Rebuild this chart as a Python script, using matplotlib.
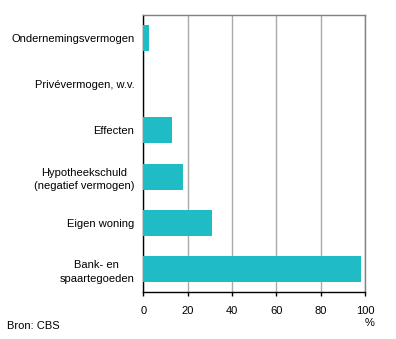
import matplotlib.pyplot as plt

# categories from top to bottom
categories = ["Ondernemingsvermogen", "Privévermogen, w.v.", "Effecten",
              "Hypotheekschuld\n(negatief vermogen)", "Eigen woning",
              "Bank- en\nspaartegoeden"]
values = [2.5, 0, 13, 18, 31, 98]
xticks = [0, 20, 40, 60, 80, 100]

plt.rcParams['font.family'] = ['Liberation Sans', 'DejaVu Sans']
plt.rcParams['font.size'] = 8

fig = plt.figure(figsize=(3.96, 3.39), dpi=100)
ax = fig.add_axes([0.362, 0.1386, 0.5597, 0.8172])

pos = list(range(len(categories)))
ax.barh(pos, values, height=0.56, color="#1fbcc6", zorder=3)
ax.set_ylim(len(categories) - 0.5, -0.5)
ax.set_xlim(0, 100)
ax.set_yticks(pos)
ax.set_yticklabels(categories, ha="right", multialignment="center",
                   linespacing=1.45)
ax.set_xticks(xticks)
ax.xaxis.grid(True, color="#aaaaaa", linewidth=1)
ax.set_axisbelow(True)

ax.tick_params(axis="y", length=0, pad=6.5)
ax.tick_params(axis="x", length=3, width=1, color="black", pad=7)

for side in ["top", "right"]:
    ax.spines[side].set_color("#808080")
    ax.spines[side].set_linewidth(1)
for side in ["left", "bottom"]:
    ax.spines[side].set_color("black")
    ax.spines[side].set_linewidth(1)

fig.text(370 / 396, 1 - 323 / 339, "%", ha="center", va="center")
fig.text(7 / 396, 1 - 326 / 339, "Bron: CBS", ha="left", va="center")

fig.savefig("out.png", dpi=100)
